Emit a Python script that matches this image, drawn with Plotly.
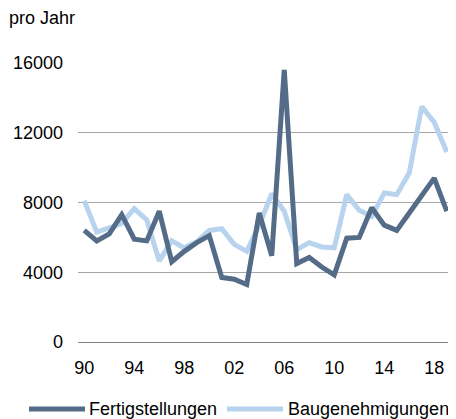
import plotly.graph_objects as go

years = list(range(1990, 2020))
fertigstellungen = [6400, 5800, 6200, 7300, 5900, 5800, 7500, 4600, 5200, 5700,
                    6100, 3700, 3600, 3300, 7400, 4950, 15600, 4500, 4850, 4300,
                    3850, 5950, 6000, 7700, 6700, 6400, 7400, 8400, 9400, 7500]
baugenehmigungen = [8100, 6300, 6550, 6800, 7650, 7000, 4650, 5800, 5400, 5750,
                    6400, 6500, 5600, 5200, 6700, 8500, 7500, 5300, 5700, 5450,
                    5400, 8450, 7550, 7200, 8550, 8450, 9700, 13500, 12600, 10900]
tick_years = [1990, 1994, 1998, 2002, 2006, 2010, 2014, 2018]
tick_labels = ["90", "94", "98", "02", "06", "10", "14", "18"]
y_ticks = [0, 4000, 8000, 12000, 16000]
series_names = ["Fertigstellungen", "Baugenehmigungen"]

DARK = "#546c87"
LIGHT = "#b7d3ee"
FONT = "Liberation Sans, Arial, sans-serif"

OFF = 8  # page body margin
W, H = 456 - OFF, 419 - OFF
L, R, T, B = 78 - OFF, 3, 63 - OFF, 419 - 342
pw, ph = W - L - R, H - T - B

def px_x(p):
    return (p - OFF - L) / pw

def px_y(p):
    return (H - B - (p - OFF)) / ph

fig = go.Figure()
fig.add_trace(go.Scatter(x=years, y=baugenehmigungen, mode="lines", name=series_names[1],
                         line=dict(color=LIGHT, width=5), showlegend=False))
fig.add_trace(go.Scatter(x=years, y=fertigstellungen, mode="lines", name=series_names[0],
                         line=dict(color=DARK, width=5), showlegend=False))

# manual legend
shapes = []
annotations = []
for name, col, x0, x1, tx in [(series_names[0], DARK, 29, 85, 87),
                              (series_names[1], LIGHT, 227, 283, 286)]:
    shapes.append(dict(type="line", xref="paper", yref="paper",
                       x0=px_x(x0), x1=px_x(x1), y0=px_y(409), y1=px_y(409),
                       line=dict(color=col, width=5)))
    annotations.append(dict(text=name, xref="paper", yref="paper", x=px_x(tx), y=px_y(409),
                            xanchor="left", yanchor="middle", showarrow=False,
                            font=dict(size=18, color="#000000", family=FONT)))
annotations.append(dict(text="pro Jahr", xref="paper", yref="paper", x=px_x(7), y=px_y(18),
                        xanchor="left", yanchor="middle", showarrow=False,
                        font=dict(size=18, color="#000000", family=FONT)))

fig.update_layout(
    width=W, height=H,
    margin=dict(l=L, r=R, t=T, b=B),
    paper_bgcolor="white", plot_bgcolor="white",
    font=dict(family=FONT, size=18, color="#000000"),
    shapes=shapes, annotations=annotations,
    xaxis=dict(range=[1989.5, 2019.5], tickvals=tick_years, ticktext=tick_labels,
               showgrid=False, zeroline=False, showline=False, ticks="",
               ticklabelstandoff=13, tickfont=dict(size=18)),
    yaxis=dict(range=[0, 16000], tickvals=y_ticks, ticktext=[str(v) for v in y_ticks],
               showgrid=True, gridcolor="#a6a6a6", gridwidth=1,
               zeroline=True, zerolinecolor="#808080", zerolinewidth=1,
               showline=False, ticks="", ticklabelstandoff=14, tickfont=dict(size=18)),
)

fig.write_html("out.html")
